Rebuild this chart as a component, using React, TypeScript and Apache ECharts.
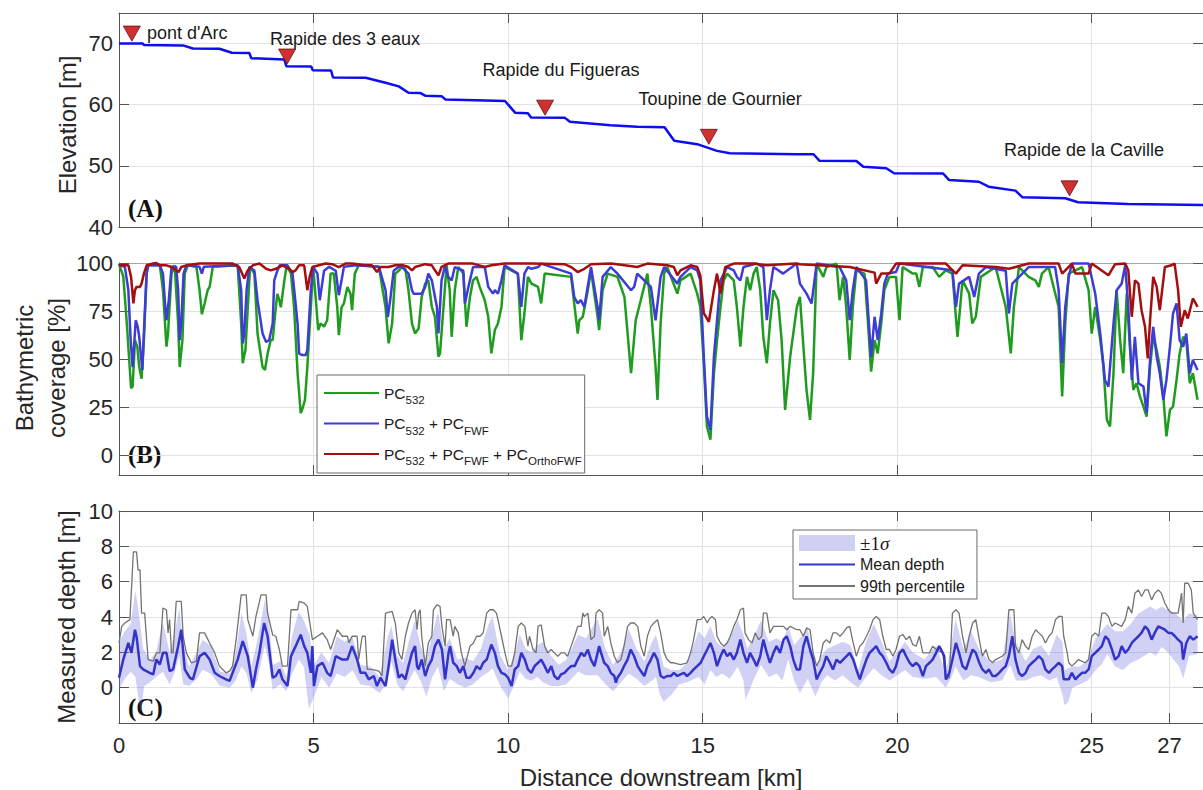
import React, { useEffect, useRef } from 'react';
import * as echarts from 'echarts';

// ---------------- DATA ----------------
const X_MAX = 27.86;
const xTicksC = [0, 5, 10, 15, 20, 25, 27];
const yTicksB = [0, 25, 50, 75, 100];

// Panel A: water-surface elevation [km, m]
const elevation: number[][] = [
  [0, 70.0], [0.61, 70.0], [0.64, 69.75], [1.64, 69.7], [1.9, 69.2], [2.58, 69.15], [2.9, 68.5], [3.35, 68.45],
  [3.4, 67.6], [4.25, 67.4], [4.3, 66.3], [4.94, 66.25], [4.98, 65.65], [5.45, 65.6], [5.5, 64.45], [6.34, 64.4],
  [6.85, 63.6], [7.19, 63.0], [7.44, 61.95], [7.75, 61.9], [7.88, 61.45], [8.29, 61.4], [8.39, 60.85], [9.92, 60.6],
  [10.18, 58.7], [10.51, 58.6], [10.59, 57.9], [11.46, 57.85], [11.59, 57.2], [12.63, 56.65], [13.32, 56.4],
  [14.02, 56.3], [14.27, 54.1], [14.86, 53.55], [15.37, 52.45], [15.7, 52.05], [17.42, 51.9], [17.85, 51.9],
  [18.0, 50.85], [18.95, 50.8], [19.13, 49.85], [19.72, 49.6], [19.92, 48.8], [21.18, 48.75], [21.33, 47.7],
  [22.1, 47.4], [22.35, 46.6], [23.04, 45.95], [23.22, 44.85], [24.32, 44.7], [24.65, 44.05], [25.93, 43.75],
  [27.86, 43.6],
];
// Rapids markers [km, m] and their names / label anchors
const rapidsMarks: number[][] = [[0.33, 71.63], [4.32, 67.88], [10.95, 59.52], [15.16, 54.75], [24.43, 46.32]];
const rapidsNames = ["pont d'Arc", 'Rapide des 3 eaux', 'Rapide du Figueras', 'Toupine de Gournier', 'Rapide de la Caville'];
const rapidsLabelPos: number[][] = [[0.72, 71.68], [5.81, 70.7], [11.36, 65.64], [15.45, 60.9], [24.8, 52.58]];

// Panel B: bathymetric coverage [%]
const cov532: number[][] = [
  [0, 99.5], [0.11, 93], [0.2, 69], [0.31, 35], [0.35, 36], [0.41, 60], [0.47, 56.6], [0.52, 46], [0.58, 40], [0.64, 60],
  [0.71, 94.5], [0.75, 98.8], [1.05, 98.8], [1.13, 86], [1.22, 56.6], [1.26, 63.4], [1.35, 94.5], [1.43, 98.8], [1.52, 68.6],
  [1.56, 46], [1.63, 60], [1.69, 94.5], [1.77, 98.8], [1.99, 98], [2.07, 86], [2.13, 73.4], [2.2, 79], [2.28, 86], [2.33, 87.6],
  [2.41, 98], [3.05, 98.8], [3.14, 68.6], [3.18, 48], [3.25, 55], [3.31, 77], [3.37, 98], [3.48, 94.5], [3.56, 63.4], [3.69, 46],
  [3.75, 44.5], [3.82, 53], [3.9, 60], [3.95, 60], [4.03, 77], [4.07, 84], [4.12, 80.7], [4.16, 77], [4.25, 91], [4.31, 98.8],
  [4.42, 94.5], [4.5, 77], [4.59, 42.8], [4.67, 22.1], [4.71, 24], [4.78, 29], [4.84, 46], [4.93, 77], [4.99, 98], [5.06, 80.7],
  [5.12, 65.2], [5.18, 68.6], [5.27, 67], [5.35, 70.3], [5.44, 94.5], [5.52, 94.5], [5.61, 77], [5.65, 62.6], [5.72, 77],
  [5.78, 79], [5.87, 87.6], [5.95, 84], [5.99, 75.5], [6.06, 94.5], [6.16, 98.8], [6.68, 98], [6.85, 77], [6.93, 58.3],
  [7.02, 68.6], [7.1, 94.5], [7.19, 96], [7.27, 98], [7.36, 97], [7.44, 85.9], [7.53, 68.6], [7.61, 63.4], [7.7, 66],
  [7.78, 82.4], [7.87, 89.3], [7.95, 91], [8.04, 77.2], [8.12, 72.1], [8.21, 51.4], [8.25, 53.1], [8.34, 77.2], [8.42, 98.8],
  [8.5, 85.9], [8.55, 61.7], [8.63, 85.9], [8.72, 97.9], [8.85, 94.5], [8.93, 66.9], [9.02, 82.4], [9.1, 91], [9.19, 92.8],
  [9.27, 87.6], [9.4, 80.7], [9.49, 72.1], [9.57, 53.1], [9.66, 65.2], [9.74, 68.6], [9.83, 77.2], [9.91, 97.9], [10.25, 94.5],
  [10.34, 60], [10.42, 73.8], [10.51, 92.8], [10.6, 89.3], [10.77, 87.6], [10.85, 79], [10.94, 94.5], [11.62, 92.8],
  [11.79, 63.4], [11.83, 70.3], [11.92, 72.1], [12.05, 85.9], [12.13, 96.2], [12.3, 72.1], [12.34, 65.2], [12.43, 85.9],
  [12.56, 94.5], [12.81, 92.8], [12.99, 82.4], [13.16, 42.8], [13.28, 70.3], [13.41, 80.7], [13.58, 94.5], [13.67, 77.2],
  [13.79, 46.2], [13.84, 29], [13.92, 68.6], [14.01, 94.5], [14.09, 97.9], [14.35, 84.1], [14.43, 91], [14.69, 94.5],
  [14.86, 84.1], [14.94, 77.2], [15.03, 48], [15.11, 15.2], [15.2, 8.3], [15.29, 42.8], [15.37, 60], [15.46, 77.2],
  [15.54, 91], [15.63, 94.5], [15.8, 91], [15.88, 77.2], [15.97, 56.6], [16.05, 77.2], [16.14, 92.8], [16.22, 85.9],
  [16.31, 94.5], [16.39, 97.9], [16.48, 85.9], [16.56, 61.7], [16.65, 48], [16.73, 68.6], [16.82, 85.9], [16.94, 80.7],
  [17.03, 60], [17.12, 23.8], [17.25, 51.4], [17.42, 77], [17.5, 82.4], [17.59, 56.6], [17.67, 34.1], [17.76, 18.6],
  [17.84, 42.8], [17.93, 99.7], [18.1, 92.8], [18.18, 97.9], [18.44, 99.7], [18.52, 80.7], [18.61, 92.8], [18.69, 77.2],
  [18.78, 49.7], [18.86, 77.2], [18.95, 96.2], [19.16, 94.5], [19.25, 68.6], [19.33, 43.6], [19.42, 60], [19.5, 53.1],
  [19.59, 68.6], [19.67, 85.9], [19.8, 92.8], [19.97, 92.8], [20.06, 70.3], [20.14, 97.9], [20.4, 94.5], [20.49, 94.5],
  [20.57, 87.6], [20.66, 97.9], [20.91, 97.9], [21.08, 92.8], [21.25, 96.2], [21.42, 94.5], [21.55, 61.7], [21.68, 91],
  [21.85, 84.1], [21.93, 68.6], [22.02, 72.1], [22.15, 92.8], [22.53, 97.9], [22.79, 77.2], [22.92, 53.1], [23.0, 77.2],
  [23.13, 97.9], [23.38, 92.8], [23.55, 91], [23.64, 87.6], [23.72, 94.5], [23.89, 97.9], [24.15, 77.2], [24.24, 30.7],
  [24.32, 68.6], [24.41, 94.5], [24.75, 97.9], [24.92, 85.9], [25.0, 63.4], [25.09, 77.2], [25.22, 60], [25.3, 46.2],
  [25.39, 18.6], [25.47, 15.2], [25.56, 42.8], [25.64, 85.9], [25.73, 60], [25.81, 42.8], [25.9, 84.1], [25.98, 56.6],
  [26.07, 34.1], [26.15, 37.6], [26.24, 30.7], [26.33, 25.5], [26.41, 20.3], [26.5, 46.2], [26.58, 61.7], [26.67, 54.8],
  [26.75, 46.2], [26.84, 30.7], [26.92, 10], [27.01, 23.8], [27.09, 25.5], [27.18, 39.3], [27.26, 53.1], [27.35, 61.7],
  [27.43, 60], [27.52, 37.6], [27.6, 42.8], [27.72, 29],
];
const covFWF: number[][] = [
  [0, 99], [0.15, 98], [0.24, 86], [0.3, 60], [0.35, 46], [0.38, 54.8], [0.43, 70.3], [0.48, 67], [0.52, 61.7], [0.55, 54.8],
  [0.6, 44.5], [0.65, 68.6], [0.71, 94.5], [0.75, 98.8], [1.05, 98.8], [1.13, 94.5], [1.19, 77], [1.22, 70.3], [1.28, 80.7],
  [1.35, 98], [1.47, 98], [1.52, 86], [1.56, 60], [1.6, 68.6], [1.66, 94.5], [1.73, 98.8], [2.07, 98], [2.13, 94.5], [2.18, 98],
  [3.05, 98.8], [3.14, 86], [3.18, 58.3], [3.22, 63.4], [3.28, 86], [3.35, 98], [3.48, 96], [3.56, 80.7], [3.69, 63.4],
  [3.78, 59], [3.86, 60], [3.95, 68.6], [3.99, 91], [4.07, 96], [4.13, 98.8], [4.33, 98.8], [4.46, 94.5], [4.53, 80.7],
  [4.59, 68.6], [4.63, 53], [4.71, 52.2], [4.8, 52.2], [4.84, 54.8], [4.93, 86], [4.99, 98], [5.1, 94.5], [5.16, 80.7],
  [5.21, 87.6], [5.27, 96], [5.4, 98], [5.57, 96], [5.65, 83.3], [5.72, 91], [5.78, 98], [6.08, 98.8], [6.68, 98], [6.85, 86],
  [6.91, 72], [6.97, 80.7], [7.06, 96], [7.19, 98], [7.27, 98], [7.44, 94.5], [7.53, 85.9], [7.57, 84.1], [7.78, 84.1],
  [7.87, 87.6], [7.95, 94.5], [8.04, 91], [8.17, 77.2], [8.21, 63.4], [8.29, 91], [8.38, 98.8], [8.46, 92.8], [8.55, 91],
  [8.63, 97.9], [8.85, 96], [8.89, 79], [8.98, 87.6], [9.1, 97.9], [9.4, 97.9], [9.49, 87.6], [9.61, 84.1], [9.66, 85.9],
  [9.74, 84.1], [9.83, 91], [9.91, 98.8], [10.25, 94.5], [10.34, 77.2], [10.42, 94.5], [10.51, 97.9], [10.6, 97],
  [10.77, 97.9], [10.85, 99.7], [11.62, 94.5], [11.7, 82.4], [11.79, 79], [11.87, 80.7], [11.96, 77.2], [12.13, 97.9],
  [12.3, 77.2], [12.34, 70.3], [12.43, 92.8], [12.64, 97.9], [12.81, 94.5], [13.16, 85.9], [13.24, 87.6], [13.32, 94.5],
  [13.67, 87.6], [13.79, 70.3], [13.92, 92.8], [14.01, 97.9], [14.35, 89.3], [14.43, 92.8], [14.69, 97.9], [14.86, 96.2],
  [14.94, 91], [15.03, 51.4], [15.11, 20.3], [15.2, 13.4], [15.29, 51.4], [15.37, 70.3], [15.46, 91], [15.63, 97.9],
  [15.8, 96.2], [15.88, 92.8], [15.97, 91], [16.05, 97.9], [16.39, 99.7], [16.56, 97.9], [16.65, 70.3], [16.73, 85.9],
  [16.82, 97.9], [17.07, 94.5], [17.42, 99.7], [17.5, 89.3], [17.67, 84.1], [17.8, 79], [17.93, 99.7], [18.52, 97.9],
  [18.69, 91], [18.78, 70.3], [18.86, 85.9], [18.95, 97.9], [19.2, 91], [19.33, 51.4], [19.42, 72.1], [19.5, 60],
  [19.59, 73.8], [19.67, 89.3], [19.76, 94.5], [19.97, 95.3], [20.06, 99.7], [21.42, 96.2], [21.51, 77.2], [21.59, 89.3],
  [21.85, 92.8], [21.98, 82.4], [22.1, 94.5], [22.28, 97.9], [22.79, 96], [22.87, 73.8], [22.96, 89.3], [23.38, 97.9],
  [24.06, 97.9], [24.15, 85.9], [24.24, 48], [24.32, 77.2], [24.41, 92.8], [24.49, 99.7], [24.92, 99.7], [25.09, 84.1],
  [25.22, 63.4], [25.34, 39.3], [25.43, 35.9], [25.56, 68.6], [25.64, 85.9], [25.77, 89.3], [25.86, 98.8], [25.94, 77.2],
  [26.03, 39.3], [26.11, 61.7], [26.2, 37.6], [26.33, 35.9], [26.41, 22.1], [26.5, 49.7], [26.58, 66.9], [26.67, 51.4],
  [26.75, 42.8], [26.84, 29], [26.92, 39.3], [27.01, 56.6], [27.09, 73.8], [27.18, 79], [27.26, 60], [27.35, 56.6],
  [27.43, 63.4], [27.52, 42.8], [27.6, 49.7], [27.72, 44.5],
];
const covOrtho: number[][] = [
  [0, 98.8], [0.24, 98.8], [0.31, 92.8], [0.37, 79], [0.41, 85.9], [0.45, 87.6], [0.54, 87.6], [0.58, 89.3], [0.64, 94.5],
  [0.71, 98.8], [0.88, 99.7], [0.96, 100], [1.05, 98.8], [1.22, 98.8], [1.35, 97.9], [1.47, 96.2], [1.53, 95.3], [1.6, 97.9],
  [1.73, 98.8], [2.07, 99.7], [2.92, 99.7], [3.09, 97.9], [3.22, 92], [3.31, 96.2], [3.44, 98.8], [3.61, 99.7], [3.78, 97],
  [3.9, 96.2], [4.03, 97], [4.2, 98.8], [4.37, 97], [4.46, 95.3], [4.54, 96.2], [4.63, 98.8], [4.76, 98.8], [4.84, 85.9],
  [4.9, 92.8], [4.97, 97.9], [5.14, 98.8], [5.31, 99.7], [5.48, 99.4], [5.65, 97.9], [5.82, 99.7], [5.99, 99.7], [6.33, 98.8],
  [6.5, 98.8], [6.63, 95.3], [6.72, 97.9], [6.93, 97.9], [7.1, 98.8], [7.19, 98.8], [7.27, 99], [7.44, 97.9], [7.53, 96.2],
  [7.61, 97.9], [7.87, 99.4], [8.04, 98.8], [8.12, 96.2], [8.21, 93.6], [8.29, 98], [8.46, 99.7], [9.1, 99.7], [9.4, 97.9],
  [9.57, 98.8], [9.91, 99.7], [10.6, 99.7], [11.45, 99.4], [11.62, 97.9], [11.79, 95.3], [11.96, 97], [12.13, 99.4],
  [12.64, 99.7], [12.99, 98.8], [13.32, 97.9], [13.58, 99.7], [14.09, 98.8], [14.26, 97.9], [14.35, 93.6], [14.43, 96.2],
  [14.69, 98.8], [14.86, 97.9], [14.94, 93.6], [15.03, 74], [15.16, 69.5], [15.29, 85.9], [15.37, 94.5], [15.46, 84.1],
  [15.58, 97.9], [15.8, 99.7], [16.31, 99.7], [16.65, 98.8], [17.07, 99.4], [17.42, 99.7], [17.5, 99.4], [18.78, 97.9],
  [19.42, 95], [19.46, 89.3], [19.59, 94.5], [19.8, 94.5], [19.97, 99.7], [21.25, 99.7], [21.51, 94.5], [21.68, 98.8],
  [22.53, 97.9], [22.87, 97], [23.38, 99.7], [24.15, 99.7], [24.24, 94.5], [24.49, 99.7], [24.58, 94.5], [24.92, 94.5],
  [25.0, 99.7], [25.43, 93.6], [25.6, 99.4], [25.86, 99.7], [25.94, 96.2], [26.03, 72.1], [26.11, 91], [26.2, 89.3],
  [26.28, 75.5], [26.37, 66.9], [26.44, 50.5], [26.5, 70.3], [26.58, 92.8], [26.67, 87.6], [26.75, 75.5], [26.88, 97.9],
  [27.05, 98.8], [27.13, 99.7], [27.22, 85.9], [27.29, 66.9], [27.39, 75.5], [27.47, 71.2], [27.6, 81.6], [27.72, 77.2],
];

// Panel C: measured depth [m]
const depthMean: number[][] = [
  [0, 0.56], [0.11, 1.59], [0.24, 2.53], [0.32, 1.97], [0.41, 3.28], [0.45, 2.91], [0.54, 1.22], [0.62, 1.03], [0.79, 0.84],
  [0.88, 0.75], [0.96, 1.59], [1.05, 1.31], [1.13, 1.97], [1.22, 1.97], [1.3, 0.94], [1.39, 1.03], [1.52, 2.35], [1.6, 3.28],
  [1.69, 1.03], [1.82, 0.56], [1.9, 0.47], [2.07, 1.78], [2.2, 1.97], [2.33, 1.59], [2.46, 0.84], [2.58, 0.66], [2.75, 0.47],
  [2.84, 0.38], [2.92, 0.84], [3.05, 1.59], [3.18, 2.63], [3.31, 1.78], [3.44, 0], [3.52, 1.03], [3.61, 1.97], [3.73, 3.66],
  [3.82, 2.91], [3.95, 0.56], [4.03, 0.66], [4.12, 1.03], [4.2, 0.47], [4.33, 0.09], [4.42, 1.78], [4.54, 2.35], [4.67, 3.0],
  [4.76, 2.35], [4.84, 1.97], [4.93, 0.84], [4.97, 2.35], [5.01, 0.09], [5.1, 1.22], [5.23, 1.41], [5.35, 0.84], [5.44, 0.66],
  [5.57, 1.78], [5.74, 1.59], [5.87, 1.59], [5.99, 2.35], [6.12, 1.59], [6.21, 0.84], [6.33, 0.84], [6.42, 0.47], [6.55, 0.66],
  [6.63, 0.09], [6.72, 0.56], [6.85, 0.09], [6.93, 1.22], [7.02, 2.72], [7.1, 1.59], [7.19, 0.56],
  [7.27, 0.75], [7.36, 0.47], [7.44, 1.22], [7.53, 1.97], [7.61, 2.35], [7.66, 1.22], [7.7, 1.03], [7.78, 1.59], [7.87, 0.66],
  [7.95, 1.22], [8.04, 1.59], [8.12, 2.35], [8.21, 2.72], [8.3, 2.16], [8.38, 0.47], [8.47, 1.97], [8.51, 2.35], [8.59, 1.41],
  [8.68, 1.22], [8.76, 0.84], [8.85, 1.22], [8.93, 0.56], [9.02, 0.56], [9.11, 0.84], [9.19, 1.22], [9.28, 1.03], [9.36, 1.41],
  [9.45, 1.59], [9.57, 2.44], [9.66, 1.97], [9.74, 1.22], [9.83, 0.84], [9.92, 0.75], [10.0, 0.56], [10.09, 0.09], [10.17, 1.03],
  [10.26, 1.22], [10.34, 1.97], [10.43, 1.59], [10.51, 1.03], [10.6, 0.84], [10.68, 1.22], [10.77, 1.41], [10.85, 1.59],
  [10.94, 1.22], [11.02, 0.84], [11.11, 1.22], [11.19, 0.66], [11.28, 0.47], [11.36, 0.75], [11.45, 0.84], [11.53, 1.03],
  [11.62, 1.22], [11.71, 1.22], [11.79, 1.59], [11.88, 1.97], [11.96, 1.78], [12.05, 2.16], [12.13, 1.59], [12.22, 1.22],
  [12.3, 1.97], [12.34, 2.35], [12.39, 1.97], [12.47, 1.41], [12.56, 1.22], [12.64, 0.84], [12.73, 0.66], [12.77, 0.28],
  [12.81, 0.56], [12.9, 0.84], [12.98, 1.22], [13.07, 1.59], [13.15, 2.16], [13.24, 1.78], [13.33, 1.22], [13.41, 0.94],
  [13.5, 0.66], [13.58, 1.22], [13.67, 1.59], [13.75, 1.97], [13.84, 1.59], [13.92, 0.66], [14.01, 0.56], [14.09, 0.66],
  [14.18, 0.66], [14.26, 0.84], [14.35, 0.66], [14.43, 0.75], [14.52, 0.84], [14.6, 0.66], [14.69, 0.84], [14.77, 1.03],
  [14.86, 1.22], [14.95, 1.41], [15.03, 1.78], [15.12, 2.16], [15.2, 2.53], [15.29, 1.97], [15.37, 1.22], [15.46, 1.78],
  [15.54, 2.16], [15.63, 1.78], [15.71, 1.97], [15.8, 1.59], [15.88, 1.97], [15.97, 2.72], [16.05, 1.97], [16.14, 1.41],
  [16.22, 1.97], [16.31, 1.59], [16.39, 1.22], [16.48, 1.78], [16.56, 2.72], [16.65, 1.97], [16.73, 1.41], [16.82, 1.97],
  [16.9, 2.35], [16.99, 1.97], [17.08, 2.72], [17.16, 2.91], [17.25, 2.35], [17.33, 1.59], [17.42, 1.03],
  [17.5, 1.03], [17.59, 2.35], [17.67, 2.91], [17.76, 2.16], [17.84, 1.59], [17.93, 0.47], [18.01, 0.84], [18.1, 1.22],
  [18.18, 1.78], [18.27, 1.41], [18.35, 1.03], [18.44, 1.59], [18.53, 1.41], [18.61, 1.59], [18.7, 1.78], [18.78, 1.97],
  [18.87, 1.59], [18.95, 1.03], [19.04, 0.47], [19.12, 1.03], [19.21, 1.59], [19.29, 1.97], [19.38, 2.16], [19.46, 2.35],
  [19.55, 1.97], [19.63, 1.78], [19.72, 1.41], [19.8, 1.03], [19.89, 0.84], [19.97, 1.22], [20.06, 1.97], [20.15, 2.16],
  [20.23, 1.78], [20.32, 1.41], [20.4, 1.22], [20.49, 1.41], [20.57, 1.22], [20.66, 0.66], [20.74, 1.22], [20.83, 1.41],
  [20.91, 1.59], [21.0, 1.97], [21.08, 2.35], [21.17, 1.97], [21.21, 1.78], [21.25, 0.47], [21.34, 0.84], [21.42, 1.59],
  [21.51, 2.53], [21.59, 1.97], [21.68, 1.22], [21.77, 1.03], [21.85, 1.59], [21.94, 2.16], [22.02, 1.97], [22.11, 1.41],
  [22.19, 1.03], [22.28, 0.84], [22.36, 1.03], [22.45, 0.66], [22.53, 0.66], [22.62, 0.84], [22.7, 1.03], [22.79, 1.22],
  [22.87, 1.78], [22.96, 2.91], [23.04, 1.59], [23.13, 0.84], [23.21, 0.66], [23.3, 0.84], [23.38, 1.22], [23.47, 1.41],
  [23.56, 1.59], [23.64, 1.78], [23.73, 1.59], [23.81, 1.03], [23.9, 0.84], [23.98, 1.03], [24.07, 1.22], [24.15, 1.41],
  [24.24, 1.22], [24.28, 0.47], [24.41, 0.47], [24.49, 0.84], [24.58, 0.47], [24.66, 0.66], [24.75, 0.84], [24.83, 0.84],
  [24.92, 1.03], [25.0, 1.78], [25.09, 1.97], [25.18, 2.16], [25.26, 2.35], [25.35, 2.91], [25.43, 2.72], [25.52, 2.16],
  [25.6, 1.59], [25.69, 1.78], [25.77, 2.35], [25.86, 1.97], [25.94, 2.16], [26.03, 2.53], [26.11, 2.72], [26.2, 2.91],
  [26.28, 3.1], [26.37, 3.47], [26.45, 3.28], [26.54, 2.72], [26.62, 3.1], [26.71, 3.47], [26.79, 3.38], [26.88, 3.28],
  [26.97, 3.1], [27.05, 3.1], [27.14, 2.91], [27.22, 2.72], [27.31, 2.53], [27.35, 1.59], [27.43, 2.53], [27.52, 2.91],
  [27.61, 2.72], [27.72, 2.91],
];
const depthP99: number[][] = [
  [0, 2.53], [0.07, 3.47], [0.15, 3.66], [0.28, 3.85], [0.37, 7.69], [0.45, 7.69], [0.49, 6.66], [0.54, 6.66], [0.58, 4.22],
  [0.66, 4.22], [0.71, 2.72], [0.75, 1.59], [0.88, 1.5], [0.96, 1.97], [1.05, 1.97], [1.13, 4.5], [1.22, 4.41], [1.26, 3.1],
  [1.3, 3.85], [1.35, 1.97], [1.39, 1.97], [1.47, 4.88], [1.6, 4.88], [1.65, 2.91], [1.73, 1.97], [1.86, 1.41], [1.99, 1.5],
  [2.07, 3.1], [2.2, 3.1], [2.33, 2.53], [2.46, 1.97], [2.58, 1.22], [2.75, 0.84], [2.84, 0.94], [2.92, 1.22], [3.01, 2.72],
  [3.14, 5.25], [3.27, 5.25], [3.31, 3.85], [3.44, 2.91], [3.52, 4.03], [3.65, 5.25], [3.78, 5.25], [3.82, 4.22], [3.95, 2.98],
  [4.03, 2.91], [4.12, 2.16], [4.2, 1.22], [4.33, 1.22], [4.42, 4.41], [4.59, 4.41], [4.63, 4.88], [4.76, 4.78], [4.84, 4.6],
  [4.93, 3.28], [4.97, 2.72], [5.1, 2.91], [5.23, 3.1], [5.35, 2.72], [5.44, 2.16], [5.61, 3.28], [5.74, 2.91], [5.87, 2.91],
  [5.91, 2.53], [5.99, 2.91], [6.12, 2.91], [6.16, 1.59], [6.25, 2.91], [6.33, 2.91], [6.38, 1.03], [6.5, 1.03], [6.68, 0.94],
  [6.76, 0.66], [6.85, 4.22], [7.02, 4.32], [7.1, 3.66], [7.19, 1.97],
  [7.27, 1.59], [7.36, 2.91], [7.44, 3.66], [7.53, 4.22], [7.61, 4.41], [7.66, 3.28], [7.7, 4.22], [7.74, 4.41], [7.78, 2.91],
  [7.87, 1.22], [7.95, 2.53], [8.04, 2.91], [8.08, 4.41], [8.17, 4.69], [8.25, 4.6], [8.3, 3.47], [8.38, 2.35], [8.42, 3.85],
  [8.51, 3.85], [8.59, 2.91], [8.63, 3.47], [8.72, 3.1], [8.8, 1.97], [8.89, 1.22], [9.02, 2.35], [9.11, 2.53], [9.19, 2.91],
  [9.28, 2.91], [9.36, 3.1], [9.45, 4.22], [9.53, 4.41], [9.62, 4.41], [9.7, 4.22], [9.74, 3.85], [9.83, 2.91], [9.92, 1.97],
  [10.0, 1.22], [10.09, 1.22], [10.17, 1.97], [10.26, 3.47], [10.34, 3.66], [10.43, 3.47], [10.51, 2.35], [10.55, 2.91],
  [10.64, 2.16], [10.72, 1.97], [10.77, 3.47], [10.85, 3.56], [10.94, 2.35], [11.02, 1.97], [11.11, 2.16], [11.19, 1.97],
  [11.28, 1.78], [11.36, 1.97], [11.45, 1.97], [11.53, 1.78], [11.62, 2.35], [11.71, 2.91], [11.79, 3.47], [11.88, 3.47],
  [11.92, 4.22], [11.96, 4.03], [12.05, 4.22], [12.13, 2.72], [12.22, 2.91], [12.26, 4.22], [12.34, 4.41], [12.43, 4.22],
  [12.47, 2.91], [12.56, 3.47], [12.64, 2.53], [12.73, 1.78], [12.81, 1.41], [12.9, 1.59], [12.98, 2.35], [13.07, 3.47],
  [13.15, 3.66], [13.24, 3.66], [13.33, 3.47], [13.41, 2.35], [13.5, 1.78], [13.58, 2.91], [13.67, 3.47], [13.75, 3.66],
  [13.84, 3.85], [13.92, 3.1], [14.01, 1.97], [14.09, 1.59], [14.18, 1.41], [14.26, 1.41], [14.43, 1.31], [14.6, 1.41],
  [14.69, 1.97], [14.77, 2.72], [14.86, 3.85], [14.95, 3.85], [15.03, 4.03], [15.12, 3.66], [15.16, 3.85], [15.24, 4.03],
  [15.33, 3.85], [15.37, 2.91], [15.46, 2.53], [15.54, 2.35], [15.63, 2.53], [15.71, 2.91], [15.8, 3.47], [15.88, 3.85],
  [15.97, 4.41], [16.05, 4.5], [16.09, 3.1], [16.18, 2.72], [16.27, 2.53], [16.35, 3.1], [16.44, 2.72], [16.52, 2.91],
  [16.56, 4.22], [16.65, 4.22], [16.73, 3.1], [16.82, 3.47], [16.9, 3.47], [17.08, 3.47], [17.16, 3.28], [17.25, 3.47],
  [17.42, 3.28], [17.5, 3.28], [17.59, 2.91], [17.67, 3.38], [17.76, 3.28], [17.84, 1.97], [17.93, 1.22], [18.01, 1.59],
  [18.1, 2.53], [18.18, 2.72], [18.27, 2.53], [18.35, 3.1], [18.44, 3.1], [18.53, 2.91], [18.61, 3.1], [18.7, 3.38],
  [18.78, 3.47], [18.87, 2.53], [18.95, 1.78], [19.04, 2.35], [19.12, 2.53], [19.21, 2.91], [19.29, 3.28], [19.38, 3.85],
  [19.46, 4.03], [19.55, 3.85], [19.63, 2.91], [19.72, 2.16], [19.8, 2.16], [19.89, 1.78], [19.97, 2.16], [20.06, 2.91],
  [20.15, 3.0], [20.23, 2.72], [20.32, 2.91], [20.4, 2.44], [20.49, 2.35], [20.57, 2.91], [20.66, 1.97], [20.83, 1.97],
  [20.91, 2.35], [21.0, 2.16], [21.17, 1.97], [21.25, 0.47], [21.34, 0.56], [21.42, 4.22], [21.51, 4.41], [21.59, 4.22],
  [21.68, 2.91], [21.77, 1.97], [21.85, 2.91], [21.94, 3.66], [22.02, 3.85], [22.11, 2.72], [22.19, 1.78], [22.28, 2.16],
  [22.36, 1.59], [22.45, 1.41], [22.53, 1.59], [22.7, 1.78], [22.79, 1.97], [22.87, 4.41], [23.0, 4.41], [23.04, 2.35],
  [23.13, 1.97], [23.21, 2.72], [23.3, 2.35], [23.38, 2.16], [23.47, 2.91], [23.56, 3.28], [23.64, 3.1], [23.73, 2.91],
  [23.81, 2.53], [23.9, 2.91], [23.98, 3.1], [24.07, 3.85], [24.15, 4.03], [24.24, 4.03], [24.28, 2.91], [24.37, 1.97],
  [24.41, 1.41], [24.49, 1.22], [24.58, 1.41], [24.66, 1.59], [24.83, 1.41], [24.92, 1.59], [25.0, 2.91], [25.09, 3.1],
  [25.18, 2.91], [25.26, 4.22], [25.35, 4.22], [25.43, 4.03], [25.52, 3.47], [25.6, 3.66], [25.77, 3.47], [25.86, 3.85],
  [25.94, 4.6], [26.03, 4.22], [26.11, 5.35], [26.2, 5.53], [26.28, 5.16], [26.37, 5.53], [26.45, 5.53], [26.54, 4.97],
  [26.62, 5.35], [26.71, 5.53], [26.79, 5.35], [26.88, 4.78], [26.97, 4.41], [27.05, 4.22], [27.22, 4.22], [27.31, 5.35],
  [27.35, 3.66], [27.39, 5.91], [27.48, 5.91], [27.56, 5.53], [27.61, 4.22], [27.72, 3.85],
];
const bandUpper: number[][] = [
  [0, 2.6], [0.15, 3.2], [0.3, 3.6], [0.42, 5.5], [0.5, 4.4], [0.62, 2.2], [0.8, 1.6], [0.95, 2.0], [1.13, 3.7], [1.3, 2.0],
  [1.42, 3.0], [1.55, 4.5], [1.65, 2.4], [1.8, 1.2], [2.0, 2.0], [2.15, 2.7], [2.35, 2.4], [2.6, 0.9], [2.85, 0.8], [3.0, 2.0],
  [3.15, 4.2], [3.28, 3.0], [3.4, 1.2], [3.55, 2.6], [3.75, 5.0], [3.85, 4.0], [3.95, 1.3], [4.15, 1.5], [4.3, 0.6], [4.45, 3.0],
  [4.62, 4.3], [4.75, 3.8], [4.9, 3.0], [5.0, 1.2], [5.2, 2.0], [5.4, 1.4], [5.6, 2.9], [5.8, 2.6], [6.0, 2.9], [6.2, 1.3],
  [6.45, 1.2], [6.7, 0.6], [6.9, 2.8], [7.0, 3.5], [7.15, 1.8], [7.3, 1.4], [7.6, 3.8], [7.75, 2.4], [7.9, 1.6], [8.05, 3.0],
  [8.2, 4.3], [8.35, 2.2], [8.5, 2.8], [8.7, 1.6], [8.9, 1.7], [9.1, 1.5], [9.3, 2.2], [9.5, 3.6], [9.6, 4.0], [9.8, 1.8],
  [10.0, 1.0], [10.15, 1.8], [10.3, 3.0], [10.45, 2.2], [10.6, 2.0], [10.75, 2.4], [10.9, 2.6], [11.1, 1.8], [11.3, 1.3],
  [11.5, 1.6], [11.8, 3.0], [12.0, 2.8], [12.3, 3.9], [12.5, 2.2], [12.7, 1.3], [12.9, 2.0], [13.1, 3.3], [13.3, 2.2],
  [13.5, 1.5], [13.7, 2.6], [13.8, 3.0], [14.0, 1.2], [14.2, 1.0], [14.4, 1.0], [14.6, 1.4], [14.9, 3.2], [15.05, 2.8],
  [15.2, 3.5], [15.35, 2.6], [15.5, 2.3], [15.7, 2.8], [15.9, 3.8], [16.05, 3.0], [16.15, 2.2], [16.3, 2.8], [16.5, 3.8],
  [16.7, 2.6], [16.9, 2.8], [17.05, 2.6], [17.2, 3.5], [17.35, 2.4], [17.5, 2.8], [17.7, 3.4], [17.9, 1.0], [18.05, 1.8],
  [18.2, 2.2], [18.4, 2.4], [18.6, 2.6], [18.8, 2.4], [19.0, 1.0], [19.2, 2.6], [19.4, 3.6], [19.6, 2.6], [19.8, 1.5],
  [20.0, 2.0], [20.2, 2.6], [20.4, 2.0], [20.7, 1.6], [21.0, 2.4], [21.25, 0.8], [21.4, 2.6], [21.5, 3.9], [21.7, 2.2],
  [21.9, 3.2], [22.1, 2.2], [22.4, 1.4], [22.7, 1.6], [22.9, 4.2], [23.05, 2.6], [23.3, 1.5], [23.5, 2.2], [23.7, 2.4],
  [23.9, 1.8], [24.1, 3.0], [24.25, 2.6], [24.3, 1.0], [24.5, 1.2], [24.7, 1.2], [24.9, 1.6], [25.1, 2.8], [25.25, 3.2],
  [25.4, 3.6], [25.6, 3.2], [25.8, 3.2], [26.0, 3.6], [26.2, 4.2], [26.35, 4.4], [26.5, 4.6], [26.65, 4.4], [26.8, 4.6],
  [26.95, 4.4], [27.1, 4.3], [27.25, 4.0], [27.35, 3.8], [27.5, 4.2], [27.72, 4.1],
];
const bandLower: number[][] = [
  [0, -0.1], [0.15, 0.5], [0.3, 0.9], [0.42, 0.6], [0.55, -1.4], [0.65, 0.1], [0.8, 0.3], [0.95, 0.6], [1.13, 0.9], [1.3, 0.2],
  [1.42, 0.8], [1.55, 1.8], [1.65, 0.2], [1.8, 0.1], [2.0, 0.5], [2.15, 1.0], [2.35, 0.8], [2.6, 0.1], [2.85, 0.0], [3.0, 0.4],
  [3.15, 1.2], [3.28, 0.8], [3.4, -0.3], [3.55, 0.4], [3.75, 2.4], [3.85, 1.4], [3.95, -0.1], [4.15, 0.2], [4.3, -0.2],
  [4.45, 0.8], [4.62, 1.6], [4.75, 1.2], [4.88, -1.2], [5.0, -0.6], [5.2, 0.6], [5.4, 0.0], [5.6, 0.8], [5.8, 0.6], [6.0, 1.0],
  [6.2, 0.2], [6.45, 0.1], [6.7, -0.3], [6.9, 0.3], [7.0, 1.5], [7.15, 0.2], [7.3, -0.2], [7.6, 1.0], [7.75, 0.4], [7.9, -0.5],
  [8.05, 0.6], [8.2, 1.2], [8.35, -0.2], [8.5, 0.5], [8.7, 0.2], [8.9, 0.0], [9.1, 0.2], [9.3, 0.6], [9.5, 0.9], [9.6, 1.1],
  [9.8, 0.1], [10.0, -0.6], [10.15, 0.1], [10.3, 0.9], [10.45, 0.5], [10.6, 0.4], [10.75, 0.6], [10.9, 0.3], [11.1, 0.1],
  [11.3, 0.1], [11.5, 0.2], [11.8, 0.9], [12.0, 0.7], [12.3, 0.7], [12.5, 0.2], [12.7, -0.2], [12.9, 0.3], [13.1, 0.8],
  [13.3, 0.5], [13.5, 0.1], [13.7, 0.4], [13.8, 0.6], [13.9, -0.4], [14.0, -0.8], [14.2, -0.4], [14.4, 0.2], [14.6, 0.3],
  [14.9, 0.6], [15.05, 0.2], [15.2, 1.0], [15.35, 0.6], [15.5, 0.8], [15.7, 0.5], [15.9, 1.2], [16.05, 0.4], [16.1, -0.7],
  [16.3, 0.4], [16.5, 1.3], [16.7, 0.6], [16.9, 0.8], [17.05, 0.4], [17.2, 1.6], [17.35, 0.4], [17.5, -0.3], [17.7, 0.5],
  [17.9, -0.5], [18.05, 0.3], [18.2, 0.7], [18.4, 0.4], [18.6, 0.7], [18.8, 0.3], [19.0, 0.0], [19.2, 0.6], [19.4, 1.1],
  [19.6, 0.7], [19.8, 0.4], [20.0, 0.7], [20.2, 1.0], [20.4, 0.6], [20.7, 0.5], [21.0, 0.6], [21.25, 0.0], [21.4, 0.6],
  [21.5, 1.2], [21.7, 0.4], [21.9, 0.7], [22.1, 0.6], [22.4, 0.3], [22.7, 0.4], [22.9, 1.3], [23.05, 0.4], [23.3, 0.4],
  [23.5, 0.6], [23.7, 0.7], [23.9, 0.4], [24.1, 0.6], [24.25, -0.4], [24.3, -1.0], [24.4, -0.8], [24.5, 0.0], [24.7, 0.2],
  [24.9, 0.4], [25.1, 1.0], [25.25, 1.3], [25.4, 1.9], [25.6, 1.2], [25.8, 1.0], [26.0, 1.4], [26.2, 1.6], [26.35, 1.8],
  [26.5, 2.0], [26.65, 1.8], [26.8, 2.3], [26.95, 2.0], [27.1, 1.6], [27.25, 1.2], [27.35, 0.5], [27.5, 1.8], [27.72, 1.9],
];

const legendBNames = ['PC532', 'PC532 + PCFWF', 'PC532 + PCFWF + PCOrthoFWF'];
const legendBRich = ['PC{s|532}', 'PC{s|532} + PC{s|FWF}', 'PC{s|532} + PC{s|FWF} + PC{s|OrthoFWF}'];
const legendCNames = ['±1σ', 'Mean depth', '99th percentile'];

// ---------------- STYLE ----------------
const FONT = "'Liberation Sans', Arial, Helvetica, sans-serif";
const SERIF = "'Liberation Serif', 'Times New Roman', serif";
const AXIS_COLOR = '#555555';
const GRID_COLOR = '#e2e2e2';
const LABEL_COLOR = '#262626';
const BAND_COLOR = 'rgba(112,112,226,0.32)';
const BAND_LEGEND = '#d0d0f3';

const GRID_LEFT = 119;
const GRID_WIDTH = 1088;

function bottomX(gridIndex: number, extra: any = {}) {
  return {
    type: 'value', gridIndex, position: 'bottom', min: 0, max: X_MAX, interval: 5,
    axisLine: { show: true, onZero: false, lineStyle: { color: AXIS_COLOR, width: 1 } },
    axisTick: { show: true, inside: true, length: 10, lineStyle: { color: AXIS_COLOR } },
    axisLabel: { show: false },
    splitLine: { show: true, lineStyle: { color: GRID_COLOR, width: 1 } },
    ...extra,
  };
}
function topX(gridIndex: number, extra: any = {}) {
  return {
    type: 'value', gridIndex, position: 'top', min: 0, max: X_MAX, interval: 5,
    axisLine: { show: true, onZero: false, lineStyle: { color: AXIS_COLOR, width: 1 } },
    axisTick: { show: true, inside: true, length: 10, lineStyle: { color: AXIS_COLOR } },
    axisLabel: { show: false },
    splitLine: { show: false },
    ...extra,
  };
}
function leftY(gridIndex: number, extra: any = {}) {
  return {
    type: 'value', gridIndex, position: 'left',
    axisLine: { show: true, onZero: false, lineStyle: { color: AXIS_COLOR, width: 1 } },
    axisTick: { show: true, inside: true, length: 10, lineStyle: { color: AXIS_COLOR } },
    splitLine: { show: true, lineStyle: { color: GRID_COLOR, width: 1 } },
    ...extra,
  };
}
function rightY(gridIndex: number, extra: any = {}) {
  return {
    type: 'value', gridIndex, position: 'right',
    axisLine: { show: true, onZero: false, lineStyle: { color: AXIS_COLOR, width: 1 } },
    axisTick: { show: true, inside: true, length: 10, lineStyle: { color: AXIS_COLOR } },
    axisLabel: { show: false },
    splitLine: { show: false },
    ...extra,
  };
}
const yLabel = (extra: any = {}) => ({
  show: true, color: LABEL_COLOR, fontSize: 22, fontFamily: FONT, margin: 6, ...extra,
});

export default function App() {
  const ref = useRef<HTMLDivElement>(null);

  useEffect(() => {
    if (!ref.current) return;
    const chart = echarts.init(ref.current, undefined, { renderer: 'svg' });

    const option: any = {
      animation: false,
      backgroundColor: '#ffffff',
      grid: [
        { left: GRID_LEFT, top: 13, width: GRID_WIDTH, height: 214, containLabel: false },
        { left: GRID_LEFT, top: 263, width: GRID_WIDTH, height: 212, containLabel: false },
        { left: GRID_LEFT, top: 511, width: GRID_WIDTH, height: 213, containLabel: false },
      ],
      xAxis: [
        bottomX(0),
        topX(0),
        bottomX(1),
        topX(1, {
          axisLine: { show: true, onZero: false, lineStyle: { color: '#9a9a9a', width: 1, type: 'dotted' } },
          axisTick: { show: false },
        }),
        bottomX(2, {
          axisTick: { show: true, inside: true, length: 10, lineStyle: { color: AXIS_COLOR }, customValues: xTicksC },
          axisLabel: { show: true, color: LABEL_COLOR, fontSize: 22, fontFamily: FONT, margin: 11, customValues: xTicksC },
          name: 'Distance downstream [km]',
          nameLocation: 'middle',
          nameGap: 42,
          nameTextStyle: { color: LABEL_COLOR, fontSize: 24, fontFamily: FONT },
        }),
        topX(2, {
          axisTick: { show: true, inside: true, length: 10, lineStyle: { color: AXIS_COLOR }, customValues: xTicksC },
        }),
      ],
      yAxis: [
        leftY(0, { min: 40, max: 75, interval: 10, axisLabel: yLabel({ showMaxLabel: false }) }),
        rightY(0, { min: 40, max: 75, interval: 10 }),
        leftY(1, {
          min: -10, max: 100,
          axisTick: { show: true, inside: true, length: 10, lineStyle: { color: AXIS_COLOR }, customValues: yTicksB },
          axisLabel: yLabel({ customValues: yTicksB }),
        }),
        rightY(1, {
          min: -10, max: 100,
          axisTick: { show: true, inside: true, length: 10, lineStyle: { color: AXIS_COLOR }, customValues: yTicksB },
        }),
        leftY(2, { min: -2, max: 10, interval: 2, axisLabel: yLabel({ showMinLabel: false }) }),
        rightY(2, { min: -2, max: 10, interval: 2 }),
      ],
      legend: [
        {
          show: true, orient: 'vertical', left: 317, top: 375,
          data: legendBNames,
          itemWidth: 55, itemHeight: 14, itemGap: 4.5, itemTextGap: 5,
          padding: [5, 3, 6, 6],
          itemStyle: { opacity: 0 },
          backgroundColor: '#ffffff', borderColor: '#6a6a6a', borderWidth: 1, borderRadius: 0,
          selectedMode: false,
          formatter: (name: string) => legendBRich[legendBNames.indexOf(name)],
          textStyle: {
            fontFamily: FONT, fontSize: 15.5, color: '#1a1a1a', lineHeight: 26,
            rich: {
              s: { fontFamily: FONT, fontSize: 11.5, color: '#1a1a1a', lineHeight: 12, verticalAlign: 'bottom' },
            },
          },
        },
        {
          show: true, orient: 'vertical', left: 793, top: 530,
          data: [
            { name: legendCNames[0], icon: 'rect', itemStyle: { color: BAND_LEGEND, opacity: 1 } },
            { name: legendCNames[1] },
            { name: legendCNames[2] },
          ],
          itemWidth: 56, itemHeight: 16, itemGap: 1.5, itemTextGap: 5,
          padding: [3, 12, 3, 5],
          itemStyle: { opacity: 0 },
          backgroundColor: '#ffffff', borderColor: '#6a6a6a', borderWidth: 1, borderRadius: 0,
          selectedMode: false,
          formatter: (name: string) => (name === legendCNames[0] ? '{pm|±1}{sg|σ}' : name),
          textStyle: {
            fontFamily: FONT, fontSize: 16, color: '#1a1a1a', lineHeight: 20,
            rich: {
              pm: { fontFamily: SERIF, fontSize: 19, color: '#1a1a1a' },
              sg: { fontFamily: SERIF, fontStyle: 'italic', fontSize: 19, color: '#1a1a1a' },
            },
          },
        },
      ],
      graphic: [
        {
          type: 'text', x: 67, y: 125, rotation: Math.PI / 2,
          style: { text: 'Elevation [m]', font: `24px ${FONT}`, fill: LABEL_COLOR, align: 'center', verticalAlign: 'middle' },
        },
        {
          type: 'text', x: 40, y: 368, rotation: Math.PI / 2,
          style: {
            text: 'Bathymetric\ncoverage [%]', font: `24px ${FONT}`, fill: LABEL_COLOR,
            align: 'center', verticalAlign: 'middle', lineHeight: 32,
          },
        },
        {
          type: 'text', x: 66, y: 617, rotation: Math.PI / 2,
          style: { text: 'Measured depth [m]', font: `24px ${FONT}`, fill: LABEL_COLOR, align: 'center', verticalAlign: 'middle' },
        },
        {
          type: 'text', x: 128, y: 208,
          style: { text: '(A)', font: `bold 25px ${SERIF}`, fill: '#111', align: 'left', verticalAlign: 'middle' },
        },
        {
          type: 'text', x: 128, y: 454,
          style: { text: '(B)', font: `bold 25px ${SERIF}`, fill: '#111', align: 'left', verticalAlign: 'middle' },
        },
        {
          type: 'text', x: 128, y: 707,
          style: { text: '(C)', font: `bold 25px ${SERIF}`, fill: '#111', align: 'left', verticalAlign: 'middle' },
        },
      ],
      series: [
        {
          name: 'Elevation', type: 'line', xAxisIndex: 0, yAxisIndex: 0, data: elevation,
          symbol: 'none', showSymbol: false, lineStyle: { color: '#0d0df2', width: 2.5 }, itemStyle: { color: '#0d0df2' },
          z: 3,
        },
        {
          name: 'Rapids', type: 'scatter', xAxisIndex: 0, yAxisIndex: 0, data: rapidsMarks,
          symbol: 'path://M0,0 L10,0 L5,9 Z', symbolSize: [17, 15],
          itemStyle: { color: '#d23030', borderColor: '#5e1010', borderWidth: 0.8, opacity: 1 }, z: 4,
        },
        {
          name: 'Rapids labels', type: 'scatter', xAxisIndex: 0, yAxisIndex: 0,
          data: rapidsLabelPos.map((p, i) => ({
            value: p,
            label: { formatter: rapidsNames[i], align: i === 0 ? 'left' : 'center' },
          })),
          symbolSize: 1, itemStyle: { color: 'rgba(0,0,0,0)', opacity: 1 },
          label: {
            show: true, position: 'inside', fontFamily: FONT, fontSize: 18, color: '#1a1a1a', verticalAlign: 'middle',
          },
          z: 5,
        },
        {
          name: legendBNames[0], type: 'line', xAxisIndex: 2, yAxisIndex: 2, data: cov532, clip: false,
          symbol: 'none', showSymbol: false, lineStyle: { color: '#1f9c1f', width: 2.5 }, itemStyle: { color: '#1f9c1f' },
        },
        {
          name: legendBNames[1], type: 'line', xAxisIndex: 2, yAxisIndex: 2, data: covFWF, clip: false,
          symbol: 'none', showSymbol: false, lineStyle: { color: '#3d3dd6', width: 2.5 }, itemStyle: { color: '#3d3dd6' },
        },
        {
          name: legendBNames[2], type: 'line', xAxisIndex: 2, yAxisIndex: 2, data: covOrtho, clip: false,
          symbol: 'none', showSymbol: false, lineStyle: { color: '#a50e0e', width: 2.5 }, itemStyle: { color: '#a50e0e' },
        },
        {
          name: legendCNames[0], type: 'custom', xAxisIndex: 4, yAxisIndex: 4,
          data: [[0, 0]], encode: { x: 0, y: 1 },
          itemStyle: { color: BAND_LEGEND },
          renderItem: (params: any, api: any) => {
            if (params.dataIndex !== 0) return null;
            const pts: number[][] = [];
            for (let i = 0; i < bandUpper.length; i++) pts.push(api.coord(bandUpper[i]));
            for (let i = bandLower.length - 1; i >= 0; i--) pts.push(api.coord(bandLower[i]));
            return { type: 'polygon', shape: { points: pts }, style: { fill: BAND_COLOR }, silent: true };
          },
          z: 1,
        },
        {
          name: legendCNames[2], type: 'line', xAxisIndex: 4, yAxisIndex: 4, data: depthP99,
          symbol: 'none', showSymbol: false, lineStyle: { color: '#737373', width: 1.3 }, itemStyle: { color: '#737373' },
          z: 2,
        },
        {
          name: legendCNames[1], type: 'line', xAxisIndex: 4, yAxisIndex: 4, data: depthMean,
          symbol: 'none', showSymbol: false, lineStyle: { color: '#3434c9', width: 2.5 }, itemStyle: { color: '#3434c9' },
          z: 3,
        },
      ],
    };

    chart.setOption(option);
    return () => {
      chart.dispose();
    };
  }, []);

  return (
    <div
      ref={ref}
      style={{ position: 'absolute', left: 0, top: 0, width: 1203, height: 790, background: '#fff' }}
    />
  );
}
